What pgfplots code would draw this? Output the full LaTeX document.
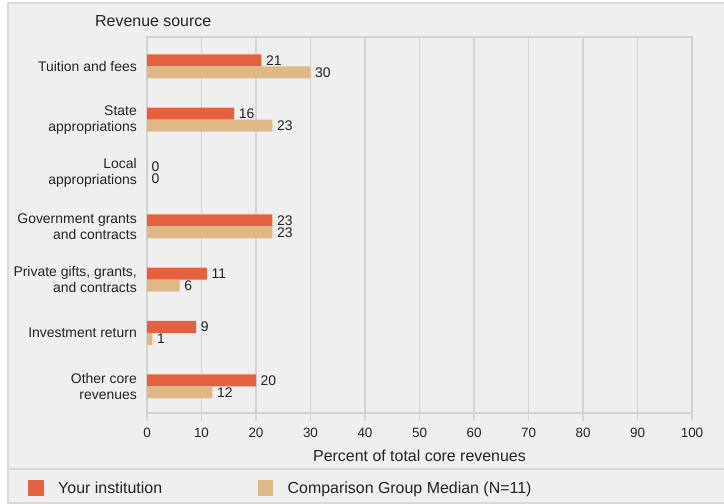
\documentclass[border=0pt]{standalone}
\usepackage{pgfplots}
\pgfplotsset{compat=1.18}
\usepackage{fontspec}
\setmainfont{Liberation Sans}
\definecolor{bgc}{HTML}{EFEFEF}
\definecolor{brd}{HTML}{D8D8D8}
\definecolor{gridc}{HTML}{D3D3D3}
\definecolor{redc}{HTML}{E4613F}
\definecolor{tanc}{HTML}{E0B886}
\definecolor{txt}{HTML}{222222}
\begin{document}
\begin{tikzpicture}
\path[use as bounding box] (0bp,0bp) rectangle (724bp,504bp);
\fill[white] (0bp,0bp) rectangle (724bp,504bp);
\filldraw[fill=bgc, draw=brd, line width=1.2bp] (8bp,1bp) rectangle (730bp,501bp);
\draw[brd, line width=1.2bp] (8bp,35bp) -- (724bp,35bp);
\node[anchor=west, inner sep=0pt, text=txt, font=\fontsize{16}{18}\selectfont] at (95bp,483bp) {Revenue source};
\begin{axis}[
  at={(147bp,91bp)}, anchor=south west, scale only axis,
  width=545bp, height=376bp,
  xbar, bar width=12bp,
  xmin=0, xmax=100, ymin=-0.5, ymax=6.55,
  xtick={0,10,...,100}, ytick={0,...,6},
  yticklabels={{Other core\\revenues},{Investment return},{Private gifts, grants,\\and contracts},{Government grants\\and contracts},{Local\\appropriations},{State\\appropriations},{Tuition and fees}},
  /pgf/number format/assume math mode=true,
  tick align=outside, major tick length=8bp,
  xtick pos=left, ytick pos=left,
  tick style={draw=gridc, line width=1.2bp},
  ytick style={draw=none},
  xmajorgrids, grid style={draw=gridc, line width=1.2bp},
  axis line style={draw=gridc, line width=1.2bp},
  xticklabel style={font=\fontsize{13.5}{15}\selectfont, text=txt, yshift=-4bp},
  yticklabel style={font=\fontsize{14}{16}\selectfont, align=right, text=txt, inner sep=0pt, xshift=-2bp},
  xlabel={Percent of total core revenues},
  xlabel style={at={(axis description cs:0.5,0)}, anchor=center, yshift=-43bp, font=\fontsize{16}{18}\selectfont, text=txt},
  nodes near coords,
  nodes near coords style={font=\fontsize{14}{15}\selectfont, text=txt, inner sep=0pt,
    text height=10bp, text depth=0pt, xshift=4.5bp, anchor=west},
  legend image code/.code={\path[#1, draw=none] (0bp,-8bp) rectangle (15.5bp,8bp);},
  legend columns=2,
  legend style={at={(-0.2183,-0.1995)}, anchor=west, draw=none, fill=none, inner sep=0pt,
    font=\fontsize{16}{18}\selectfont, text=txt, nodes={inner sep=0pt},
    /tikz/every odd column/.style={column sep=14.5bp},
    /tikz/every even column/.style={column sep=95.5bp}},
]
\addplot[fill=redc, draw=none, bar shift=6bp] coordinates {
  (20,0) (9,1) (11,2) (23,3) (0,4) (16,5) (21,6)
};
\addlegendentry{Your institution}
\addplot[fill=tanc, draw=none, bar shift=-6bp] coordinates {
  (12,0) (1,1) (6,2) (23,3) (0,4) (23,5) (30,6)
};
\addlegendentry{Comparison Group Median (N=11)}
\end{axis}
\end{tikzpicture}
\end{document}
